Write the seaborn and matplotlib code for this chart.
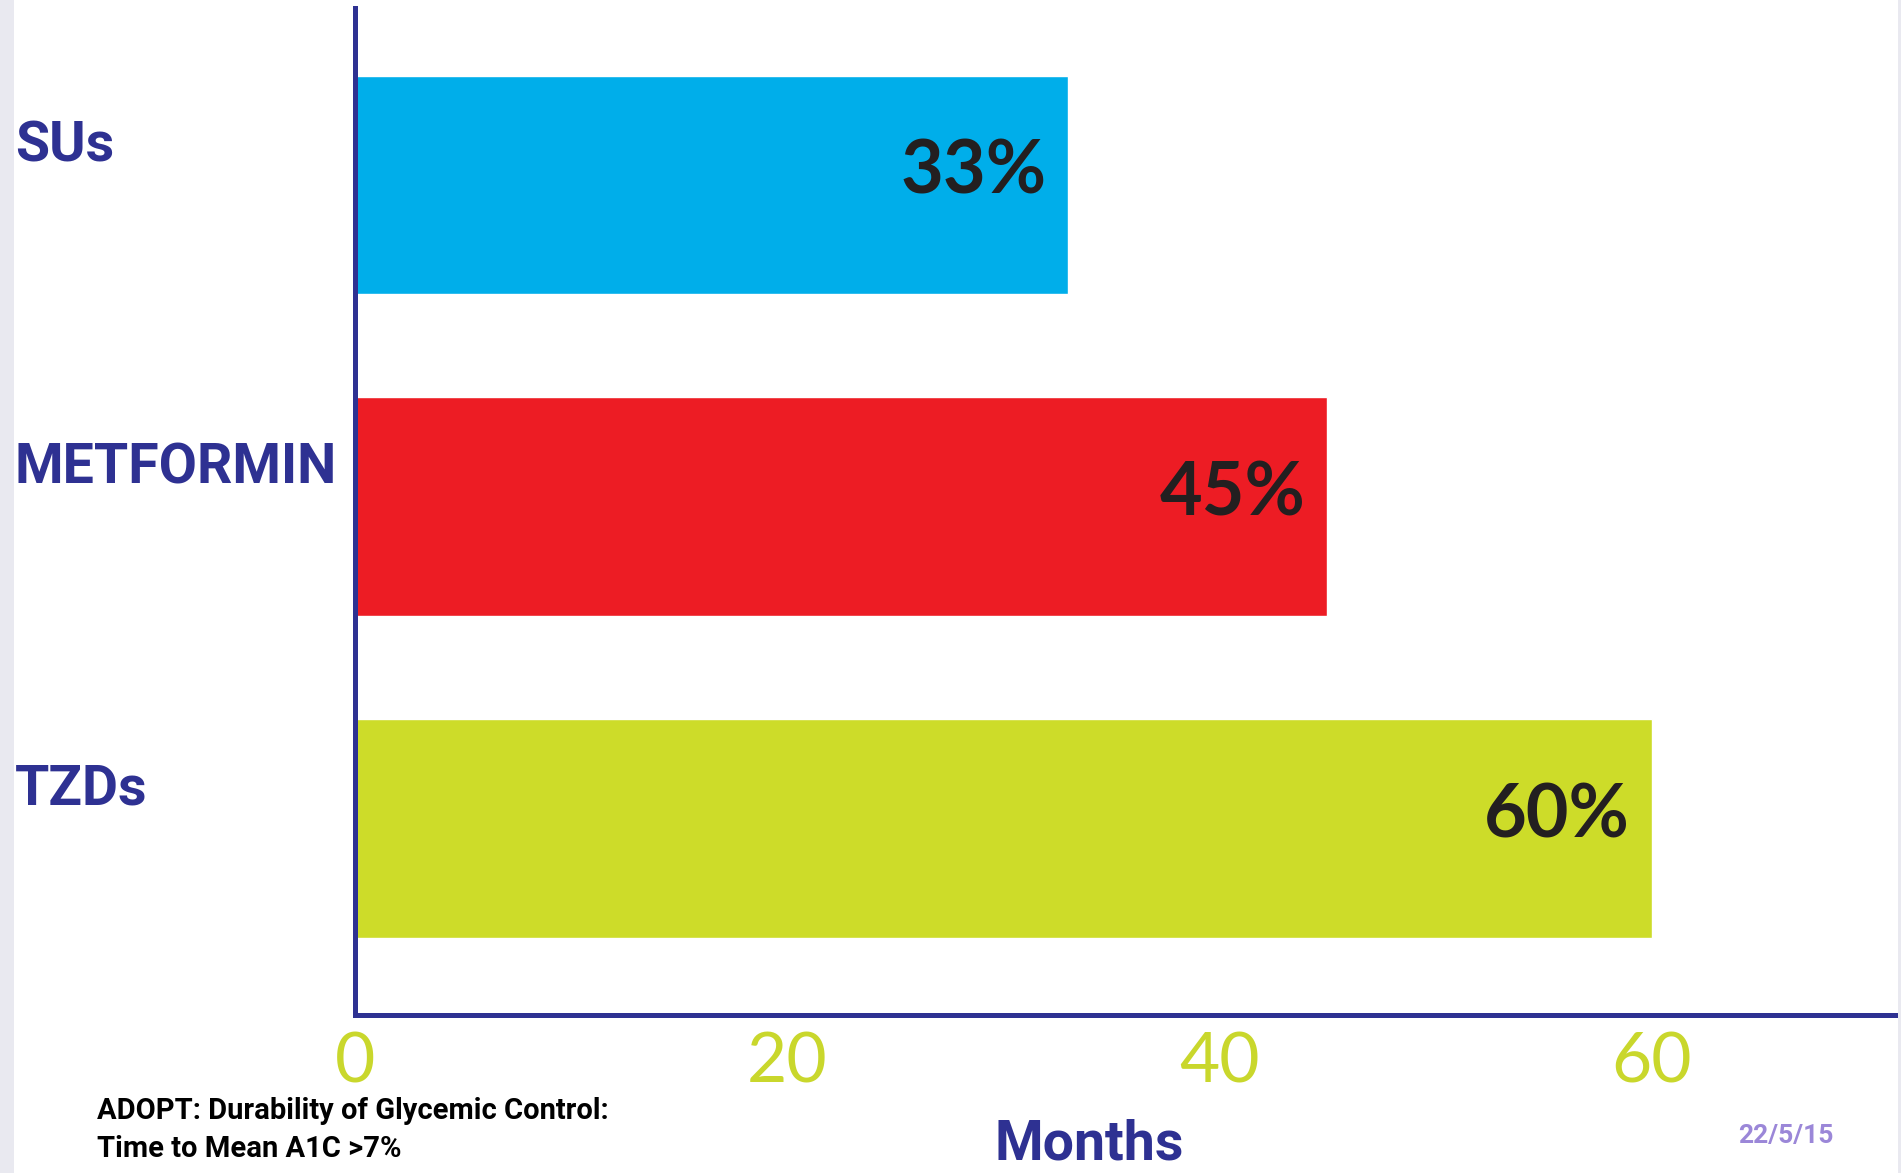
import matplotlib
matplotlib.use("Agg")
import matplotlib.pyplot as plt
import matplotlib.transforms as mtransforms
from matplotlib import font_manager
from matplotlib.patches import Rectangle
import seaborn as sns
import pandas as pd

# Data
drugs = ["SUs", "METFORMIN", "TZDs"]
months = [33, 45, 60]
value_labels = ["33%", "45%", "60%"]
bar_colors = ["#00aeea", "#ed1c24", "#cddc29"]
x_ticks = [0, 20, 40, 60]

navy = "#2e3192"
lime = "#c9d72c"

available = {f.name for f in font_manager.fontManager.ttflist}


def pick(*names):
    for n in names:
        if n in available:
            return n
    return "DejaVu Sans"


narrow = pick("Liberation Sans Narrow", "Roboto", "Open Sans", "Liberation Sans")
round_font = pick("Lato", "Open Sans", "DejaVu Sans")

sns.set_theme(style="white")
plt.rcParams["font.family"] = [narrow, "DejaVu Sans"]

W, H = 1901, 1173
fig = plt.figure(figsize=(W / 100, H / 100), dpi=100)
fig.patch.set_facecolor("white")

# thin grey margins at the page edges
fig.patches.append(Rectangle((0, 0), 14 / W, 1, transform=fig.transFigure,
                             facecolor="#e9e9f0", edgecolor="none", zorder=0))
fig.patches.append(Rectangle((1898 / W, 0), 3 / W, 1, transform=fig.transFigure,
                             facecolor="#e9e9f0", edgecolor="none", zorder=0))

ax = fig.add_axes([355 / W, 1 - 1015 / H, (1898 - 355) / W, (1015 - 8) / H])
ax.set_facecolor("white")

df = pd.DataFrame({"drug": drugs, "months": months})
sns.barplot(data=df, x="months", y="drug", hue="drug", palette=bar_colors,
            orient="h", width=0.68, saturation=1, legend=False, ax=ax)

ax.set_xlim(0, 71.4)
ax.set_ylim(2.58, -0.55)

for s in ["top", "right"]:
    ax.spines[s].set_visible(False)
for s in ["left", "bottom"]:
    ax.spines[s].set_color(navy)
    ax.spines[s].set_linewidth(3.6)

ax.set_xticks(x_ticks)
ax.set_xticklabels([str(t) for t in x_ticks], fontsize=50, color=lime,
                   family=[round_font, "DejaVu Sans"], fontweight="normal")
ax.tick_params(axis="x", length=0, pad=12)
ax.set_yticks([])
ax.set_xlabel("")
ax.set_ylabel("")

# category names at the far left, slightly above each bar's centre
lab_tr = mtransforms.blended_transform_factory(fig.transFigure, ax.transData)
for i, name in enumerate(drugs):
    ax.text(15 / W, i - 0.12, name, transform=lab_tr, ha="left", va="center",
            fontsize=40, fontweight="bold", color=navy, clip_on=False)

# value labels inside the bars
for i, (v, lab) in enumerate(zip(months, value_labels)):
    ax.text(v - 1.0, i - 0.04, lab, ha="right", va="center", fontsize=53,
            fontweight="bold", color="#231f20",
            family=[round_font, "DejaVu Sans"])

fig.text(1089 / W, 1 - 1160 / H, "Months", ha="center", va="baseline",
         fontsize=40, fontweight="bold", color=navy)

fig.text(97 / W, 1 - 1119 / H, "ADOPT: Durability of Glycemic Control:",
         ha="left", va="baseline", fontsize=21, fontweight="bold", color="black")
fig.text(97 / W, 1 - 1157 / H, "Time to Mean A1C >7%",
         ha="left", va="baseline", fontsize=21, fontweight="bold", color="black")

fig.text(1738 / W, 1 - 1143 / H, "22/5/15", ha="left", va="baseline",
         fontsize=19, fontweight="bold", color="#9b87d8")

fig.savefig("out.png", dpi=100, facecolor="white")
